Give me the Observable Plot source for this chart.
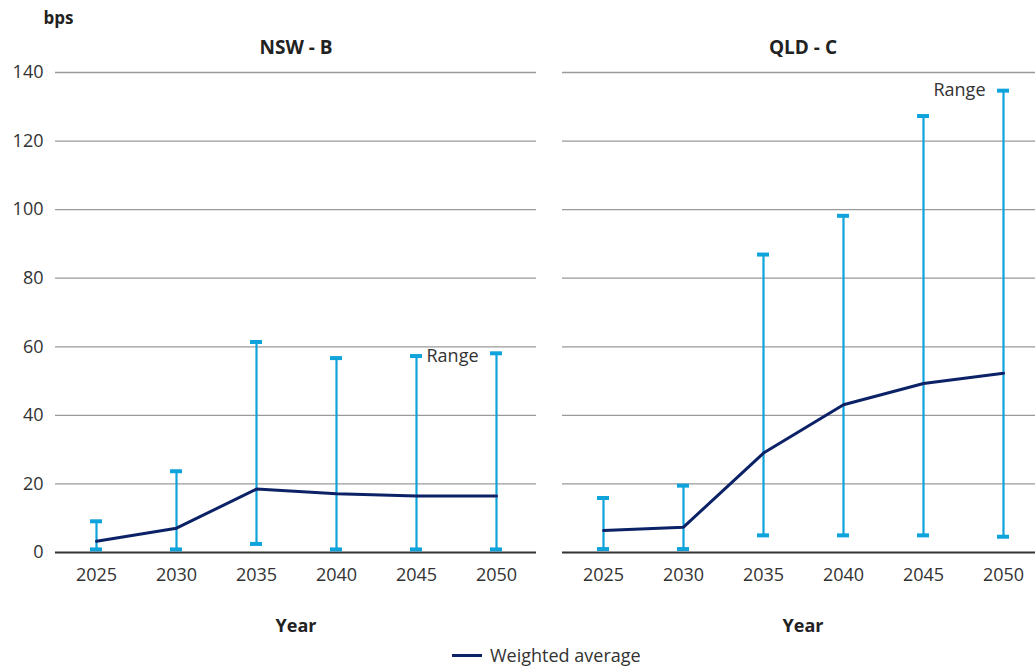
<!DOCTYPE html>
<html>
<head>
<meta charset="utf-8">
<script src="https://cdn.jsdelivr.net/npm/d3@7"></script>
<script src="https://cdn.jsdelivr.net/npm/@observablehq/plot@0.6"></script>
<style>
  html, body { margin: 0; padding: 0; background: #fff; overflow: hidden; }
  body { font-family: "Open Sans", sans-serif; width: 1035px; }
  #legend { height: 30px; line-height: 30px; font-size: 18px; color: #333; padding-left: 452px; display: flex; align-items: center; }
  #legend .sw { display: inline-block; width: 30px; height: 3px; background: #0c2267; margin-right: 8px; }
</style>
</head>
<body>
<div id="chart"></div>
<div id="legend"><span class="sw"></span><span>Weighted average</span></div>
<script>
const years = [2025, 2030, 2035, 2040, 2045, 2050];
const regions = ["NSW - B", "QLD - C"];
const nswAvg  = [3.3, 7.1, 18.5, 17.1, 16.5, 16.5];
const nswLow  = [0.9, 0.9, 2.5, 0.9, 0.9, 0.9];
const nswHigh = [9.1, 23.7, 61.4, 56.7, 57.3, 58.1];
const qldAvg  = [6.4, 7.4, 29.0, 43.1, 49.3, 52.3];
const qldLow  = [1.0, 1.0, 5.0, 5.0, 5.0, 4.6];
const qldHigh = [15.9, 19.5, 86.9, 98.2, 127.3, 134.7];
const yTicks = [0, 20, 40, 60, 80, 100, 120, 140];
const rangeLabelNSW = [{region: "NSW - B", year: 2045, value: 57.3}];
const rangeLabelQLD = [{region: "QLD - C", year: 2050, value: 134.7}];

const series = {
  "NSW - B": {avg: nswAvg, low: nswLow, high: nswHigh},
  "QLD - C": {avg: qldAvg, low: qldLow, high: qldHigh}
};
const rows = regions.flatMap(r => years.map((y, i) => ({
  region: r, year: y, avg: series[r].avg[i], low: series[r].low[i], high: series[r].high[i]
})));
const facetRows = regions.map(r => ({region: r}));

const BLUE = "#0fa3dc";
const NAVY = "#0c2267";

const chart = Plot.plot({
  width: 1035,
  height: 640,
  marginLeft: 54,
  marginRight: -8,
  marginTop: 72,
  marginBottom: 88,
  style: {fontFamily: "Open Sans", fontSize: "18px", color: "#333", background: "#fff"},
  fx: {domain: regions, paddingInner: 0.05138, paddingOuter: 0, axis: null},
  x: {type: "point", domain: years, padding: 0.5},
  y: {domain: [0, 140], ticks: yTicks},
  marks: [
    Plot.gridY(yTicks.filter(d => d > 0), {stroke: "#9a9a9a", strokeOpacity: 1, strokeWidth: 1.3}),
    Plot.ruleY([0], {stroke: "#333", strokeWidth: 2}),
    Plot.axisY(yTicks, {tickSize: 0, tickPadding: 12, label: null, fontSize: 18, fill: "#333"}),
    Plot.axisX({tickSize: 0, tickPadding: 16, label: null, fontSize: 18, fill: "#333", tickFormat: d => String(d)}),
    Plot.ruleX(rows, {fx: "region", x: "year", y1: "low", y2: "high", stroke: BLUE, strokeWidth: 2.2}),
    Plot.ruleY(rows, {fx: "region", x1: "year", x2: "year", y: "high", stroke: BLUE, strokeWidth: 4, insetLeft: -6, insetRight: -6}),
    Plot.ruleY(rows, {fx: "region", x1: "year", x2: "year", y: "low", stroke: BLUE, strokeWidth: 4, insetLeft: -6, insetRight: -6}),
    Plot.line(rows, {fx: "region", x: "year", y: "avg", stroke: NAVY, strokeWidth: 3}),
    Plot.text(rangeLabelNSW, {fx: "region", x: "year", y: "value", text: () => "Range", textAnchor: "start", dx: 10, fill: "#333", fontSize: 18}),
    Plot.text(rangeLabelQLD, {fx: "region", x: "year", y: "value", text: () => "Range", textAnchor: "end", dx: -18, fill: "#333", fontSize: 18}),
    Plot.text(facetRows, {fx: "region", text: "region", frameAnchor: "top", dy: -25, lineAnchor: "middle", fontWeight: "bold", fontSize: 19, fill: "#222"}),
    Plot.text(facetRows, {fx: "region", text: () => "Year", frameAnchor: "bottom", dy: 74, lineAnchor: "middle", fontWeight: "bold", fontSize: 18, fill: "#222"}),
    Plot.text([{region: "NSW - B"}], {fx: "region", text: () => "bps", frameAnchor: "top-left", textAnchor: "start", dx: -12, dy: -54, lineAnchor: "middle", fontWeight: "bold", fontSize: 17, fill: "#222"})
  ]
});
document.getElementById("chart").appendChild(chart);
</script>
</body>
</html>
